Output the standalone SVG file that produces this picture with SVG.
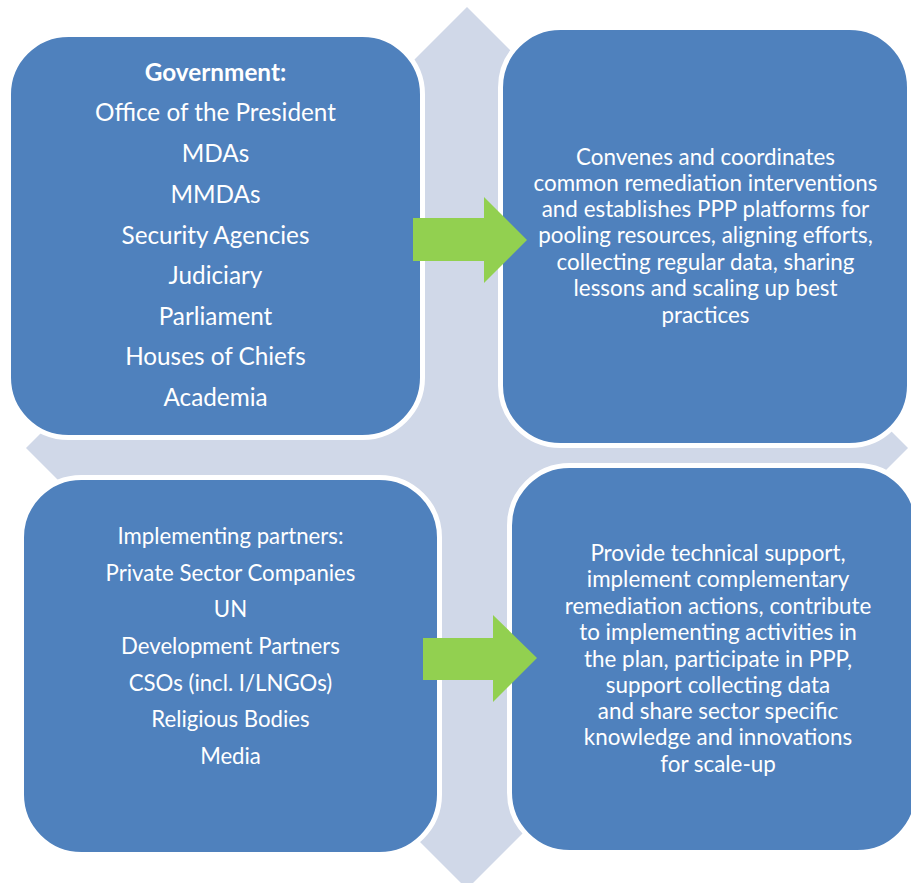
<svg xmlns="http://www.w3.org/2000/svg" width="911" height="883" viewBox="0 0 911 883">
  <style>
    .box { fill: #4F81BD; stroke: #FFFFFF; stroke-width: 5; }
    .arrow { fill: #92D050; }
    .bg { fill: #D0D8E8; }
    text { font-family: Lato, "Liberation Sans", sans-serif; fill: #FFFFFF; text-anchor: middle; }
    .t1 { font-size: 24.3px; }
    .t2 { font-size: 22.4px; }
    .t3 { font-size: 22.2px; }
    .b { font-weight: bold; }
  </style>
  <rect width="911" height="883" fill="#FFFFFF"/>

  <!-- four-way arrow behind the quadrants -->
  <g id="background">
    <polygon class="bg" points="467,7 577,117 522,117 522,393 798,393 798,338 908,448 798,558 798,503 522,503 522,779 577,779 467,889 357,779 412,779 412,503 136,503 136,558 26,448 136,338 136,393 412,393 412,117 357,117"/>
  </g>

  <g id="government">
    <rect class="box" x="8.5" y="34.5" width="414" height="403" rx="60" ry="60"/>
    <text class="t1 b" x="215.5" y="81">Government:</text>
    <text class="t1" x="215.5" y="121">Office of the President</text>
    <text class="t1" x="215.5" y="162">MDAs</text>
    <text class="t1" x="215.5" y="203">MMDAs</text>
    <text class="t1" x="215.5" y="244">Security Agencies</text>
    <text class="t1" x="215.5" y="284">Judiciary</text>
    <text class="t1" x="215.5" y="325">Parliament</text>
    <text class="t1" x="215.5" y="365">Houses of Chiefs</text>
    <text class="t1" x="215.5" y="406">Academia</text>
  </g>

  <g id="government-role">
    <rect class="box" x="500.5" y="27.5" width="409" height="418" rx="60" ry="60"/>
    <text class="t2" x="705.5" y="165">Convenes and coordinates</text>
    <text class="t2" x="705.5" y="191">common remediation interventions</text>
    <text class="t2" x="705.5" y="217">and establishes PPP platforms for</text>
    <text class="t2" x="705.5" y="243">pooling resources, aligning efforts,</text>
    <text class="t2" x="705.5" y="270">collecting regular data, sharing</text>
    <text class="t2" x="705.5" y="296">lessons and scaling up best</text>
    <text class="t2" x="705.5" y="323">practices</text>
  </g>

  <g id="partners">
    <rect class="box" x="21.5" y="477.5" width="418" height="377" rx="60" ry="60"/>
    <text class="t3" x="230.5" y="544">Implementing partners:</text>
    <text class="t3" x="230.5" y="581">Private Sector Companies</text>
    <text class="t3" x="230.5" y="617">UN</text>
    <text class="t3" x="230.5" y="654">Development Partners</text>
    <text class="t3" x="230.5" y="691">CSOs (incl. I/LNGOs)</text>
    <text class="t3" x="230.5" y="727">Religious Bodies</text>
    <text class="t3" x="230.5" y="764">Media</text>
  </g>

  <g id="partners-role">
    <rect class="box" x="509.5" y="465.5" width="408" height="387" rx="60" ry="60"/>
    <text class="t2" x="718" y="561">Provide technical support,</text>
    <text class="t2" x="718" y="587">implement complementary</text>
    <text class="t2" x="718" y="614">remediation actions, contribute</text>
    <text class="t2" x="718" y="640">to implementing activities in</text>
    <text class="t2" x="718" y="667">the plan, participate in PPP,</text>
    <text class="t2" x="718" y="693">support collecting data</text>
    <text class="t2" x="718" y="719">and share sector specific</text>
    <text class="t2" x="718" y="745">knowledge and innovations</text>
    <text class="t2" x="718" y="772">for scale-up</text>
  </g>

  <!-- connectors between the quadrants -->
  <g id="connectors">
    <polygon class="arrow" points="413,218 484,218 484,197 527,240 484,283 484,261 413,261"/>
    <polygon class="arrow" points="423,638 493,638 493,615 537,658 493,702 493,680 423,680"/>
  </g>
</svg>
